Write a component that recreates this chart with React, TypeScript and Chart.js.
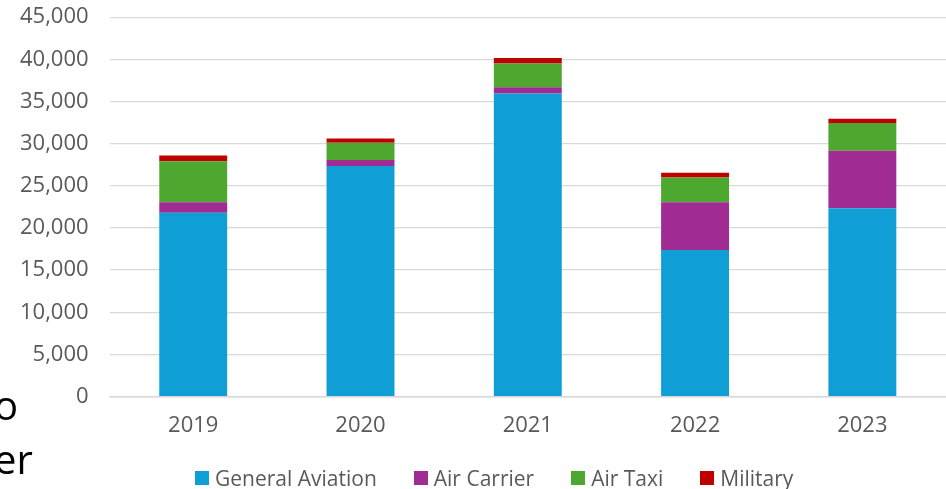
import React, { useEffect, useRef } from "react";
import { Chart, registerables } from "chart.js";

Chart.register(...registerables);

const years = ["2019", "2020", "2021", "2022", "2023"];
const generalAviation = [21800, 27350, 35950, 17400, 22350];
const airCarrier = [1250, 700, 750, 5650, 6800];
const airTaxi = [4850, 2050, 2800, 2950, 3300];
const military = [700, 500, 650, 550, 500];
const seriesNames = ["General Aviation", "Air Carrier", "Air Taxi", "Military"];
const seriesColors = ["#0F9ED5", "#A02B93", "#4EA72E", "#C00000"];
const sideText = ["o", "er"];

const FONT = "'Open Sans', 'DejaVu Sans', sans-serif";

export default function App() {
  const canvasRef = useRef<HTMLCanvasElement | null>(null);

  useEffect(() => {
    if (!canvasRef.current) return;
    const values = [generalAviation, airCarrier, airTaxi, military];
    const chart = new Chart(canvasRef.current, {
      type: "bar",
      data: {
        labels: years,
        datasets: seriesNames.map((name, i) => ({
          label: name,
          data: values[i],
          backgroundColor: seriesColors[i],
          borderWidth: 0,
          categoryPercentage: 1,
          barPercentage: 0.406,
        })),
      },
      options: {
        responsive: false,
        animation: false,
        layout: { padding: { left: 16, right: 0, top: 0, bottom: 34 } },
        plugins: {
          legend: { display: false },
          tooltip: { enabled: false },
        },
        scales: {
          x: {
            stacked: true,
            grid: { display: false, drawTicks: false },
            border: { display: true, color: "#d9d9d9", width: 1.5 },
            ticks: {
              color: "#595959",
              font: { family: FONT, size: 22 },
              padding: 16,
            },
          },
          y: {
            stacked: true,
            min: 0,
            max: 45000,
            grid: {
              color: "#d9d9d9",
              lineWidth: 1.3,
              drawTicks: true,
              tickLength: 17,
              tickColor: "rgba(0,0,0,0)",
            },
            border: { display: false },
            ticks: {
              stepSize: 5000,
              color: "#595959",
              font: { family: FONT, size: 22 },
              padding: 4,
              callback: (v: any) => Number(v).toLocaleString("en-US"),
            },
          },
        },
      },
    });
    return () => chart.destroy();
  }, []);

  return (
    <div
      style={{
        position: "fixed",
        left: 0,
        top: 0,
        width: 946,
        height: 489,
        overflow: "hidden",
        background: "#fff",
      }}
    >
      <canvas
        ref={canvasRef}
        width={946}
        height={489}
        style={{ position: "absolute", left: 0, top: 0, width: 946, height: 489 }}
      />
      {sideText.map((t, i) => (
        <div
          key={t}
          style={{
            position: "absolute",
            left: -6,
            top: 385 + i * 54,
            fontFamily: FONT,
            fontSize: 40,
            lineHeight: "40px",
            color: "#000",
            whiteSpace: "nowrap",
          }}
        >
          {t}
        </div>
      ))}
      <div
        style={{
          position: "absolute",
          left: 195,
          top: 465,
          display: "flex",
          alignItems: "center",
          fontFamily: FONT,
          fontSize: 21,
          lineHeight: "26px",
          color: "#595959",
          whiteSpace: "nowrap",
        }}
      >
        {seriesNames.map((name, i) => (
          <div
            key={name}
            style={{ display: "flex", alignItems: "center", marginRight: 37 }}
          >
            <span
              style={{
                display: "inline-block",
                width: 14,
                height: 14,
                background: seriesColors[i],
                marginRight: 6,
              }}
            />
            <span>{name}</span>
          </div>
        ))}
      </div>
    </div>
  );
}
